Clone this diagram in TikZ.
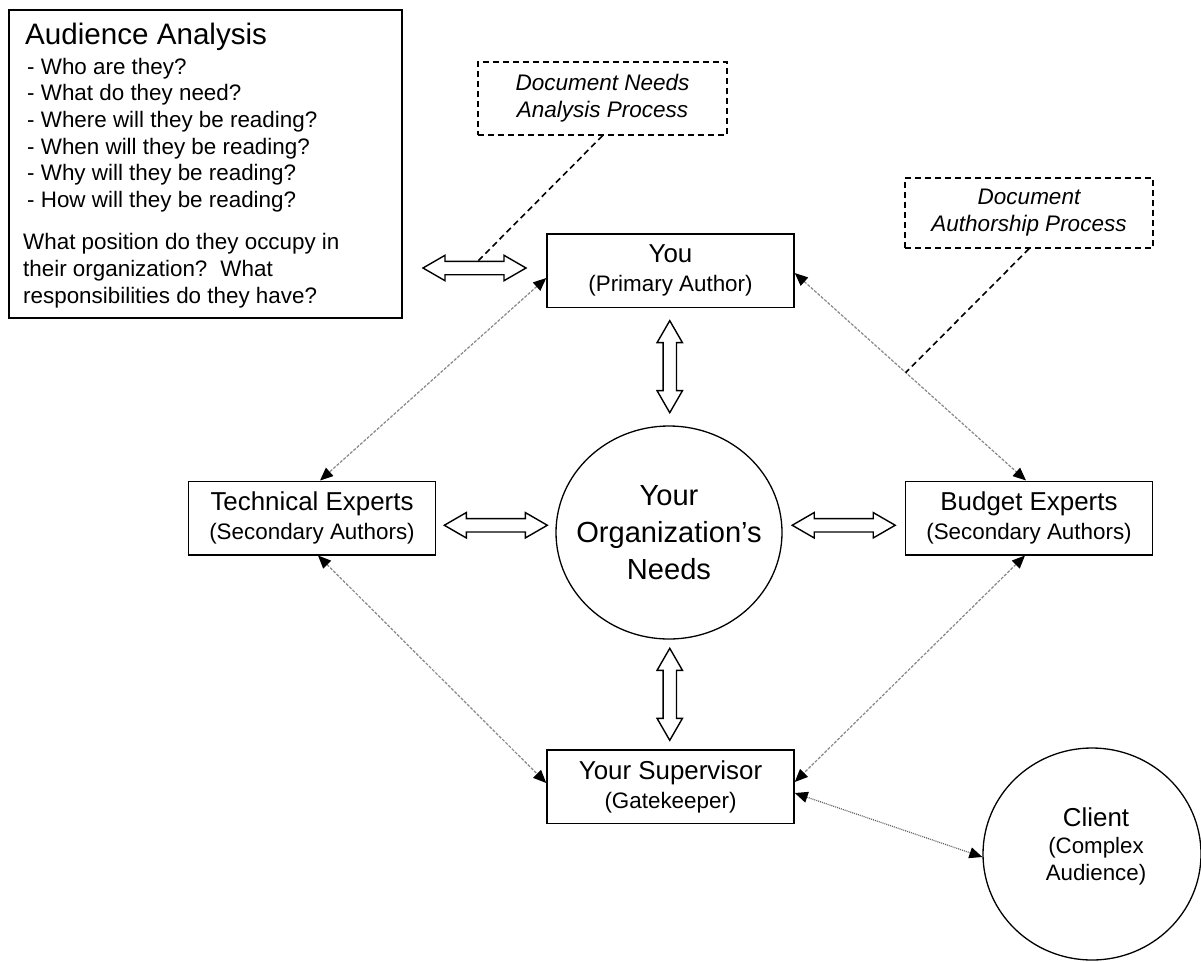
\documentclass[tikz,border=0pt]{standalone}
\usepackage{fontspec}
\setmainfont{Liberation Sans}
\usetikzlibrary{arrows.meta,shapes.geometric,shapes.arrows,calc}

\definecolor{linkgray}{RGB}{135,135,135}
\definecolor{clientgray}{RGB}{95,95,95}
\newcommand\bigline[1]{{\fontsize{25.9}{29}\selectfont #1}}

\begin{document}
\begin{tikzpicture}[x=1pt,y=-1pt,
  every node/.style={inner sep=0pt},
  roleBox/.style={draw, line width=1.5pt, minimum width=247pt, minimum height=73.5pt,
    align=center, font=\fontsize{22.4}{29}\selectfont},
  noteBox/.style={draw, line width=1.5pt, dash pattern=on 6pt off 4pt,
    align=center, font=\itshape\fontsize{22.5}{27}\selectfont},
  bubble/.style={draw, ellipse, line width=1.3pt},
  twoway/.style={draw, line width=1.4pt, fill=white, double arrow,
    double arrow tip angle=60, double arrow head extend=6pt,
    inner xsep=0pt, inner ysep=6pt, minimum width=0pt},
  link/.style={draw=linkgray, line width=1.2pt, dash pattern=on 3pt off 1.5pt,
    {Triangle[length=13pt,width=11pt,color=black]}-{Triangle[length=13pt,width=11pt,color=black]}},
  clientlink/.style={draw=clientgray, dash pattern=on 1pt off 1pt},
  leader/.style={line width=1.6pt, dash pattern=on 6pt off 4pt},
]
\useasboundingbox (0,0) rectangle (1201,961);

% audience analysis panel (multi-line nodes are anchored at their last baseline)
\node[draw, line width=1.5pt, minimum width=393pt, minimum height=308pt] (aud) at (205.5,164) {};
\node[anchor=base west, font=\fontsize{29.6}{34}\selectfont] (audhead) at (25,44) {Audience Analysis};
\node[anchor=base west, align=left, font=\fontsize{22.4}{26.7}\selectfont] (audlist) at (27,207.5)
  {- Who are they?\\- What do they need?\\- Where will they be reading?\\- When will they be reading?\\- Why will they be reading?\\- How will they be reading?};
\node[anchor=base west, align=left, font=\fontsize{22.4}{27}\selectfont] (audq) at (23,303)
  {What position do they occupy in\\their organization?\hspace{13pt}What\\responsibilities do they have?};

% process notes
\node[noteBox, minimum width=249pt, minimum height=73pt] (needs) at (602.5,98.5) {Document Needs\\Analysis Process};
\node[noteBox, minimum width=248pt, minimum height=70pt] (authorship) at (1029,213) {Document\\Authorship Process};

% people and needs
\node[roleBox] (you) at (670.5,270.5) {\bigline{You}\\(Primary Author)};
\node[roleBox] (tech) at (312,518) {\bigline{Technical Experts}\\(Secondary Authors)};
\node[roleBox] (budget) at (1029,518) {\bigline{Budget Experts}\\(Secondary Authors)};
\node[roleBox] (sup) at (670.5,786.5) {\bigline{Your Supervisor}\\(Gatekeeper)};

\node[bubble, minimum width=226pt, minimum height=213pt] (org) at (669,532.5) {};
\node[font=\fontsize{29.1}{37}\selectfont, align=center] (orgtext) at (org) {Your\\Organization’s\\Needs};

\node[bubble, minimum width=218pt, minimum height=212pt] (client) at (1092,854) {};
\node[font=\fontsize{22.3}{27}\selectfont, align=center] (clienttext) at (1096,846) {\bigline{Client}\\(Complex\\Audience)};

% two-way exchanges
\node[twoway, minimum height=103pt] (audarrow) at (474.5,268) {};
\node[twoway, minimum height=92pt, rotate=90] (youorg) at ($(you.south)!.5!(org.north)$) {};
\node[twoway, minimum height=103pt] (techorg) at ($(tech.east)!.5!(org.west)$) {};
\node[twoway, minimum height=103pt] (orgbudget) at ($(org.east)!.5!(budget.west)$) {};
\node[twoway, minimum height=92pt, rotate=90] (orgsup) at ($(org.south)!.5!(sup.north)$) {};

% working relationships
\draw[link] ([yshift=-7.5pt]you.west) -- ([xshift=8pt]tech.north);
\draw[link] ([yshift=-2.5pt]you.east) -- coordinate[pos=0.48] (authfoot) ([xshift=-3pt]budget.north);
\draw[link] ([xshift=6pt]tech.south) -- ([yshift=3.5pt]sup.west);
\draw[link] ([xshift=-4pt]budget.south) -- ([yshift=4.5pt]sup.east);
\draw[link, clientlink] ([yshift=-6.5pt]sup.east) -- ([yshift=-3pt]client.west);

% leaders from the process notes
\coordinate (needsfoot) at ($(audarrow.center)+(2.5,-6)$);
\draw[leader] (needs.south) -- (needsfoot);
\draw[leader] (authorship.south) -- (authfoot);
\end{tikzpicture}
\end{document}
